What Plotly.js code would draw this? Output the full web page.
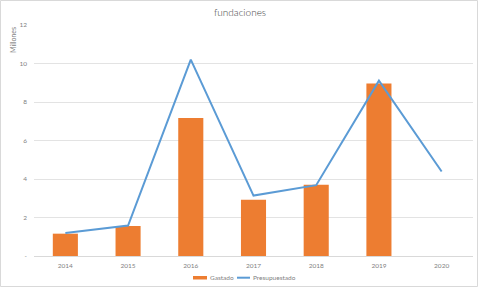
<!DOCTYPE html>
<html><head><meta charset="utf-8">
<script src="https://cdn.plot.ly/plotly-3.0.1.min.js"></script>
<style>body{margin:0;background:#fff}#c{width:480px;height:288px}</style>
</head><body><div id="c"></div>
<script>
const years = ['2014','2015','2016','2017','2018','2019','2020'];
const gastado = [1.16, 1.56, 7.17, 2.92, 3.70, 8.96, null];
const presupuestado = [1.2, 1.58, 10.2, 3.14, 3.68, 9.11, 4.39];
const yTickVals = [0, 2, 4, 6, 8, 10, 12];
const yTickText = ['-', '2', '4', '6', '8', '10', '12'];
const seriesNames = ['Gastado', 'Presupuestado'];
const colors = ['#ED7D31', '#5B9BD5'];

const L = 34, R = 7, T = 25, B = 32, W = 480, H = 288;
const pw = W - L - R, ph = H - T - B;
const px = p => (p - L) / pw;
const py = p => (H - B - p) / ph;
const font = 'Lato, "Open Sans", sans-serif';
const txt = '#7f7f7f';

Plotly.newPlot('c', [
  {type:'bar', name:seriesNames[0], x:years, y:gastado, marker:{color:colors[0]}, width:0.4},
  {type:'scatter', mode:'lines', name:seriesNames[1], x:years, y:presupuestado, line:{color:colors[1], width:2}}
], {
  width:W, height:H,
  margin:{l:L, r:R, t:T, b:B, pad:0, autoexpand:false},
  paper_bgcolor:'#fff', plot_bgcolor:'#fff',
  font:{family:font, color:txt, size:7},
  title:{text:'fundaciones', font:{family:font, size:10, color:'#3f3f3f', weight:300}, x:0.5, xanchor:'center', y:1-12/H, yanchor:'middle'},
  xaxis:{type:'category', showgrid:false, showline:true, linecolor:'#d9d9d9', linewidth:1, ticks:'', ticklabelstandoff:3, tickfont:{size:6.5, color:txt}, fixedrange:true},
  yaxis:{range:[0,12], tickvals:yTickVals, ticktext:yTickText, showgrid:true, gridcolor:'#e3e3e3', gridwidth:1, zeroline:false, showline:false, ticks:'', ticklabelstandoff:6, tickfont:{size:6.5, color:txt}},
  showlegend:false,
  annotations:[
    {text:'Millones', textangle:-90, xref:'paper', yref:'paper', x:px(13), y:py(40), xanchor:'center', yanchor:'middle', showarrow:false, font:{size:7, color:txt}},
    {text:seriesNames[0], xref:'paper', yref:'paper', x:px(207.5), y:py(277.5), xanchor:'left', yanchor:'middle', showarrow:false, font:{size:6.5, color:txt}},
    {text:seriesNames[1], xref:'paper', yref:'paper', x:px(251), y:py(277.5), xanchor:'left', yanchor:'middle', showarrow:false, font:{size:6.5, color:txt}}
  ],
  shapes:[
    {type:'rect', xref:'paper', yref:'paper', x0:px(0.5), x1:px(477.5), y0:py(0.5), y1:py(286.5), line:{color:'#d9d9d9', width:1}, fillcolor:'rgba(0,0,0,0)', layer:'below'},
    {type:'rect', xref:'paper', yref:'paper', x0:px(193), x1:px(207), y0:py(276), y1:py(279.5), line:{width:0}, fillcolor:colors[0]},
    {type:'line', xref:'paper', yref:'paper', x0:px(237), x1:px(250), y0:py(277.7), y1:py(277.7), line:{color:colors[1], width:2}}
  ]
}, {displayModeBar:false, staticPlot:true});
</script></body></html>
